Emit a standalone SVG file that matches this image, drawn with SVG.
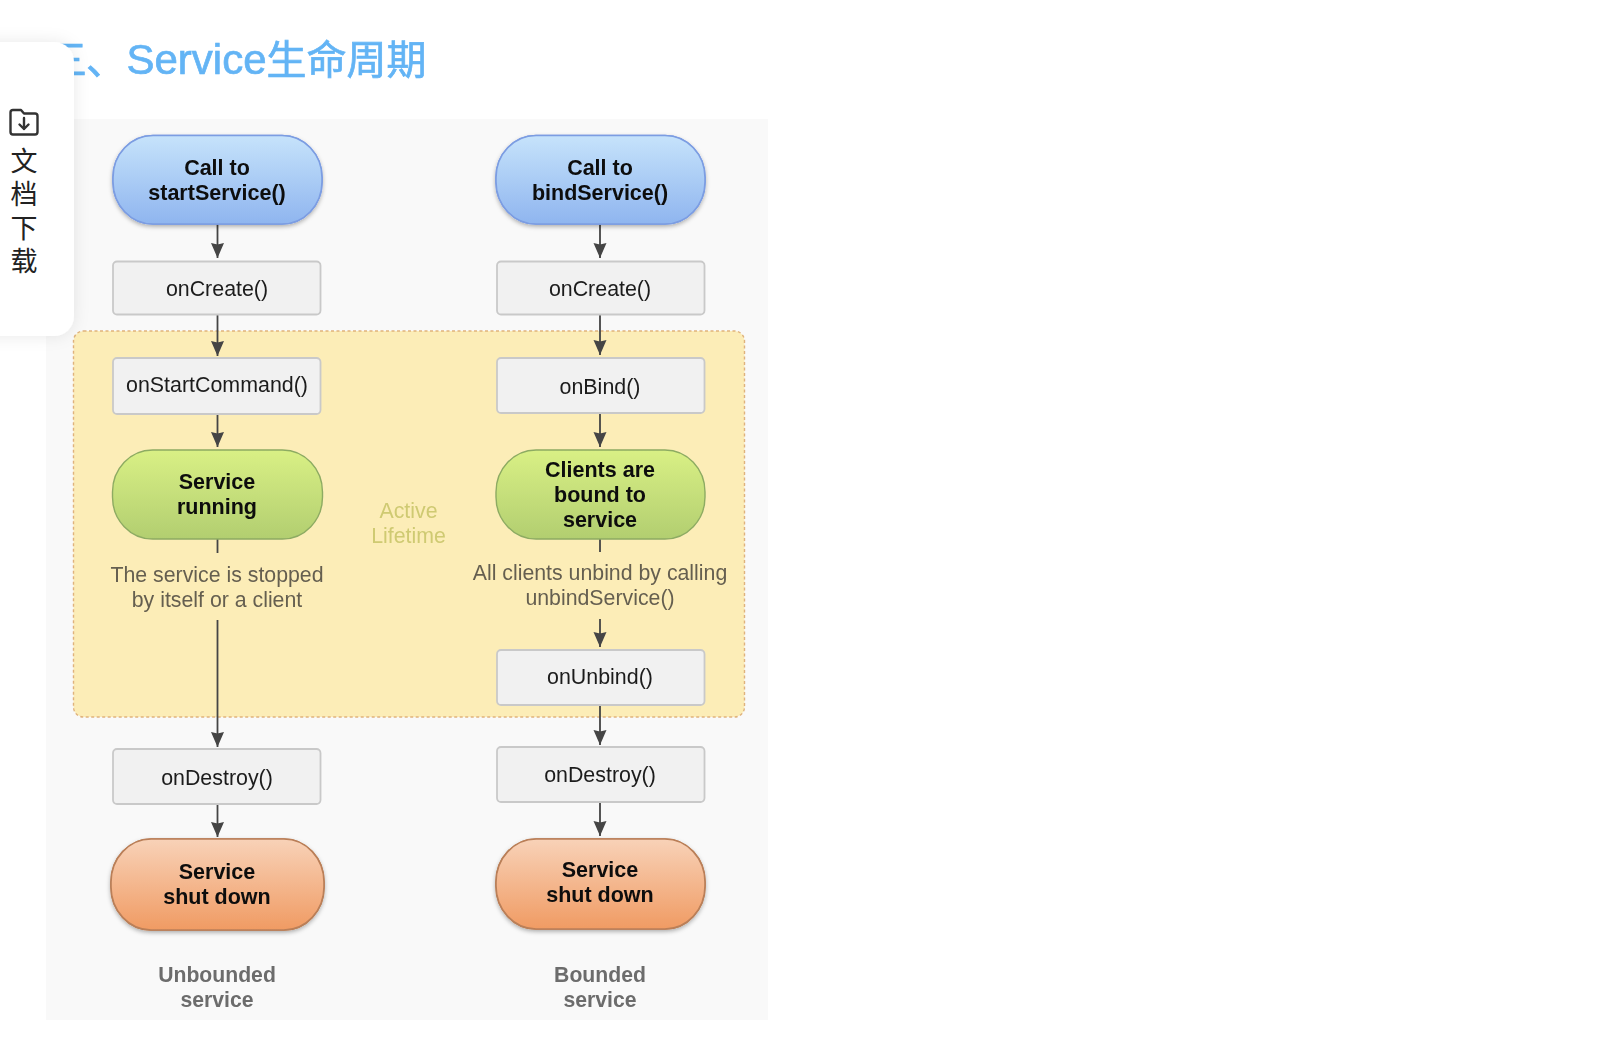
<svg xmlns="http://www.w3.org/2000/svg" width="1606" height="1058" viewBox="0 0 1606 1058">
<style>
text{font-family:"Liberation Sans",Arial,"Noto Sans CJK SC",sans-serif;text-anchor:middle}
.soft{filter:url(#soft)}
.b{font-weight:700;font-size:21.5px;fill:#0c0c0c}
.r{font-size:21.4px;fill:#1c1c1c}
.d{font-size:21.3px;fill:#655f50}
.a{font-size:21.3px;fill:#cfca72}
.f{font-weight:700;font-size:21.2px;fill:#6c6c6c}
.box{fill:#f1f1f1;stroke:#c9c9c9;stroke-width:1.8;filter:url(#soft)}
.blue{fill:url(#gb);stroke:#7c9de2;stroke-width:1.6}
.green{fill:url(#gg);stroke:#8dab62;stroke-width:1.4;filter:url(#soft)}
.orange{fill:url(#go);stroke:#ba7f58;stroke-width:1.6}
.c{stroke:#444;stroke-width:1.8;fill:none}
.side{font-family:"Noto Sans CJK SC",sans-serif;font-size:27px;font-weight:400;fill:#222;writing-mode:vertical-rl;text-anchor:start;letter-spacing:6.2px}
.title{font-size:40px;fill:#63b4f5;stroke:#63b4f5;stroke-width:.7;text-anchor:start}
</style>
<defs>
<linearGradient id="gb" x1="0" y1="0" x2="0" y2="1"><stop offset="0" stop-color="#c6e3fb"/><stop offset="1" stop-color="#8fb5ef"/></linearGradient>
<linearGradient id="gg" x1="0" y1="0" x2="0" y2="1"><stop offset="0" stop-color="#d9f085"/><stop offset="1" stop-color="#b2ce70"/></linearGradient>
<linearGradient id="go" x1="0" y1="0" x2="0" y2="1"><stop offset="0" stop-color="#f8d2b8"/><stop offset="1" stop-color="#f09b63"/></linearGradient>
<filter id="soft" x="-5%" y="-5%" width="110%" height="110%"><feGaussianBlur stdDeviation="0.45"/></filter>
<filter id="sh" x="-10%" y="-15%" width="120%" height="135%"><feGaussianBlur stdDeviation="0.45" result="s"/><feDropShadow in="SourceGraphic" dx="0" dy="2" stdDeviation="2" flood-color="#000" flood-opacity="0.3" result="d"/><feMerge><feMergeNode in="d"/><feMergeNode in="s"/></feMerge></filter>
<filter id="ps" x="-30%" y="-15%" width="160%" height="130%"><feDropShadow dx="0" dy="0" stdDeviation="8" flood-color="#000" flood-opacity="0.09"/></filter>
<marker id="ah" markerUnits="userSpaceOnUse" markerWidth="14" markerHeight="18" refX="7" refY="16" orient="0" viewBox="0 0 14 18"><path d="M0.500 1 L7 2.500 L13.500 1 L7 16 Z" fill="#444"/></marker>
</defs>

<g id="title"><text class="title soft" y="74"><tspan x="47">三</tspan><tspan x="86">、</tspan><tspan x="126.500" font-size="42px">Service</tspan><tspan x="266.500">生命周期</tspan></text></g>

<g id="background">
<rect x="46" y="119" width="722" height="901" fill="#f9f9f9"/>
<rect x="73.5" y="331" width="671" height="386" rx="10" fill="#fcedb7" stroke="#dfb27c" stroke-width="1.4" stroke-dasharray="3 2.5"/>
</g>

<g id="connectors" class="soft">
<path class="c" d="M217.5 224V258" marker-end="url(#ah)"/>
<path class="c" d="M217.5 315V356" marker-end="url(#ah)"/>
<path class="c" d="M217.5 414V447" marker-end="url(#ah)"/>
<path class="c" d="M217.5 539V553"/>
<path class="c" d="M217.5 620V747" marker-end="url(#ah)"/>
<path class="c" d="M217.5 804V837" marker-end="url(#ah)"/>
<path class="c" d="M600 224V258" marker-end="url(#ah)"/>
<path class="c" d="M600 315V355" marker-end="url(#ah)"/>
<path class="c" d="M600 413V447" marker-end="url(#ah)"/>
<path class="c" d="M600 539V552"/>
<path class="c" d="M600 619V647" marker-end="url(#ah)"/>
<path class="c" d="M600 705V745" marker-end="url(#ah)"/>
<path class="c" d="M600 802V836" marker-end="url(#ah)"/>
</g>

<g id="call-start"><rect class="blue" x="113" y="135.500" width="209" height="88.500" rx="40" ry="42" filter="url(#sh)"/><text class="b soft" x="217" y="175">Call to</text><text class="b soft" x="217" y="200">startService()</text></g>
<g id="call-bind"><rect class="blue" x="496" y="135.500" width="209" height="88.500" rx="40" ry="42" filter="url(#sh)"/><text class="b soft" x="600" y="175">Call to</text><text class="b soft" x="600" y="200">bindService()</text></g>
<g id="oncreate-left"><rect class="box" x="113" y="261.500" width="207.500" height="53" rx="4"/><text class="r soft" x="217" y="296">onCreate()</text></g>
<g id="oncreate-right"><rect class="box" x="497" y="261.500" width="207.500" height="53" rx="4"/><text class="r soft" x="600" y="296">onCreate()</text></g>
<g id="onstartcommand"><rect class="box" x="113" y="358" width="207.500" height="56" rx="4"/><text class="r soft" x="217" y="392">onStartCommand()</text></g>
<g id="onbind"><rect class="box" x="497" y="358" width="207.500" height="55" rx="4"/><text class="r soft" x="600" y="394">onBind()</text></g>
<g id="service-running"><rect class="green" x="112.500" y="450" width="210" height="89" rx="40" ry="42"/><text class="b soft" x="217" y="489">Service</text><text class="b soft" x="217" y="514">running</text></g>
<g id="clients-bound"><rect class="green" x="496" y="450" width="209" height="89" rx="40" ry="42"/><text class="b soft" x="600" y="477">Clients are</text><text class="b soft" x="600" y="502">bound to</text><text class="b soft" x="600" y="527">service</text></g>
<g id="stop-note"><text class="d soft" x="217" y="582">The service is stopped</text><text class="d soft" x="217" y="607">by itself or a client</text></g>
<g id="unbind-note"><text class="d soft" x="600" y="580">All clients unbind by calling</text><text class="d soft" x="600" y="605">unbindService()</text></g>
<g id="active-lifetime"><text class="a soft" x="408.500" y="518">Active</text><text class="a soft" x="408.500" y="543">Lifetime</text></g>
<g id="onunbind"><rect class="box" x="497" y="650" width="207.500" height="55" rx="4"/><text class="r soft" x="600" y="684">onUnbind()</text></g>
<g id="ondestroy-left"><rect class="box" x="113" y="749" width="207.500" height="55" rx="4"/><text class="r soft" x="217" y="785">onDestroy()</text></g>
<g id="ondestroy-right"><rect class="box" x="497" y="747" width="207.500" height="55" rx="4"/><text class="r soft" x="600" y="782">onDestroy()</text></g>
<g id="shutdown-left"><rect class="orange" x="111" y="839" width="213" height="91" rx="40" ry="43" filter="url(#sh)"/><text class="b soft" x="217" y="879">Service</text><text class="b soft" x="217" y="904">shut down</text></g>
<g id="shutdown-right"><rect class="orange" x="496" y="839" width="209" height="90" rx="40" ry="43" filter="url(#sh)"/><text class="b soft" x="600" y="877">Service</text><text class="b soft" x="600" y="902">shut down</text></g>
<g id="label-unbounded"><text class="f soft" x="217" y="982">Unbounded</text><text class="f soft" x="217" y="1007">service</text></g>
<g id="label-bounded"><text class="f soft" x="600" y="982">Bounded</text><text class="f soft" x="600" y="1007">service</text></g>

<g id="sidebar">
<path d="M-20 42H54A20 20 0 0 1 74 62V316A20 20 0 0 1 54 336H-20Z" fill="#fff" filter="url(#ps)"/>
<path d="M10.500 112.500A2.500 2.500 0 0 1 13 110H21L24 113.500H35A2.500 2.500 0 0 1 37.500 116V132A2.500 2.500 0 0 1 35 134.500H13A2.500 2.500 0 0 1 10.500 132Z" fill="none" stroke="#333" stroke-width="2.400" stroke-linejoin="round"/>
<path d="M24 118V129M19.500 124.500L24 129L28.500 124.500" fill="none" stroke="#333" stroke-width="2.400" stroke-linecap="round" stroke-linejoin="round"/>
<text class="side" x="24" y="147.500">文档下载</text>
</g>
</svg>
